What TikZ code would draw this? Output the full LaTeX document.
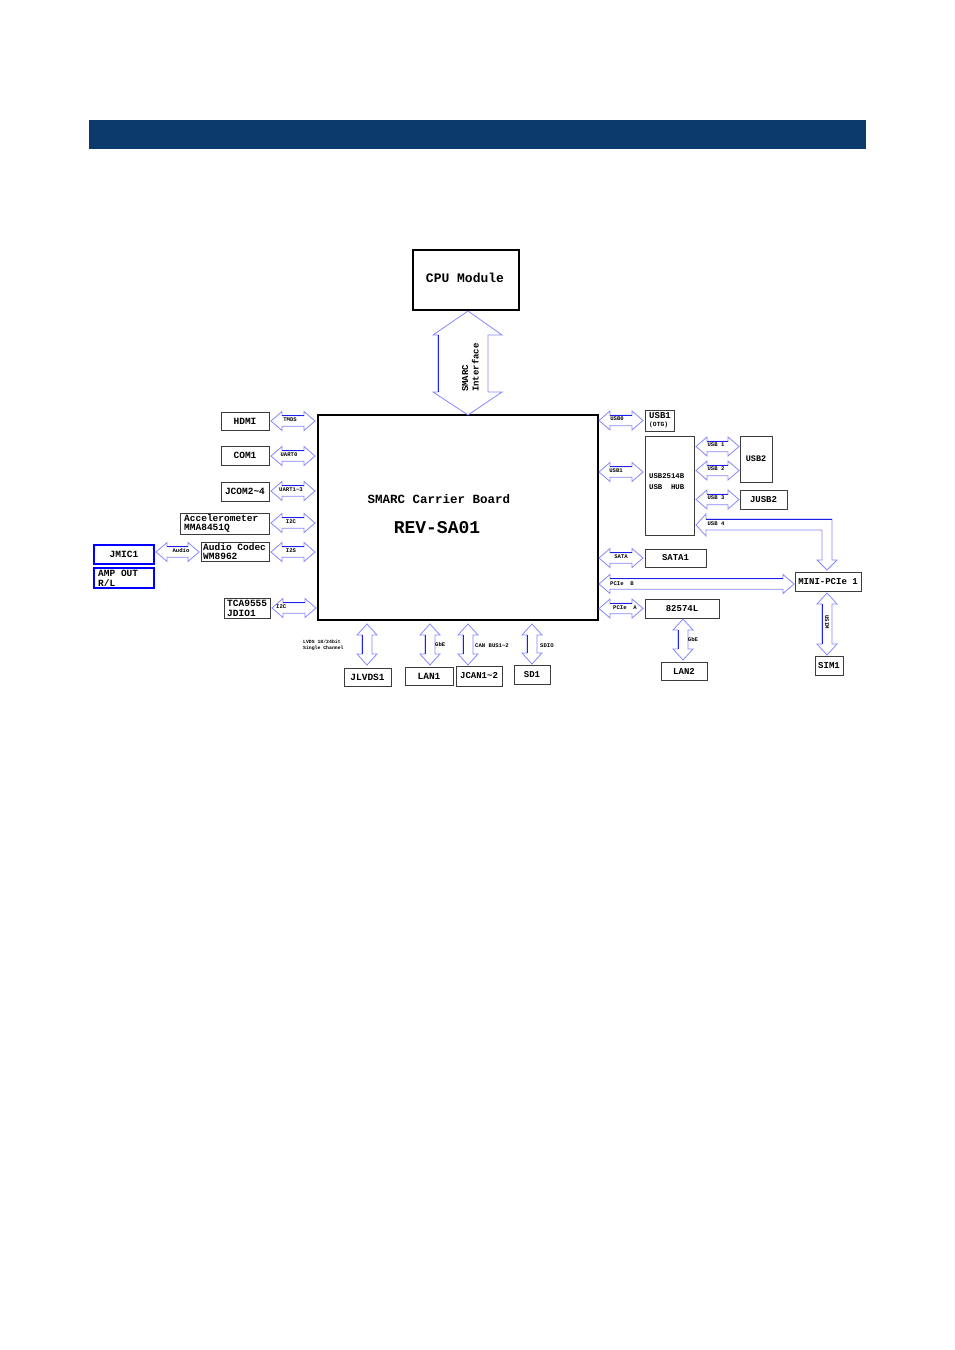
\documentclass[tikz,border=0pt]{standalone}
\usepackage{fontspec}
\setmainfont{Liberation Serif}
\newfontfamily\cour{Liberation Mono}
\definecolor{navyhdr}{RGB}{12,58,108}
\definecolor{arrc}{RGB}{135,135,255}
\definecolor{arrd}{RGB}{30,30,235}
\definecolor{boxc}{RGB}{60,60,60}
\newcommand\fs[1]{\fontsize{#1}{#1}\selectfont}
\newcommand\fsb[2]{\fontsize{#1}{#2}\selectfont}
\newcommand\bxn[7][]{\node[bx,minimum width={#5-#3},minimum height={#6-#4},#1] (#2) at ({(#3+#5)/2},{(#4+#6)/2}) {#7};}
\newcommand\harr[3]{%
  \draw[arr] (#1,#3) -- ({#1+11},{#3-9.5}) -- ({#1+11},{#3-5.3}) -- ({#2-11},{#3-5.3}) -- ({#2-11},{#3-9.5}) -- (#2,#3) -- ({#2-11},{#3+9.5}) -- ({#2-11},{#3+5.3}) -- ({#1+11},{#3+5.3}) -- ({#1+11},{#3+9.5}) -- cycle;
  \draw[arrdk] ({#1+11},{#3-5.3}) -- ({#2-11},{#3-5.3});}
\newcommand\varr[3]{%
  \draw[arr] (#1,#2) -- ({#1+10},{#2+11}) -- ({#1+5},{#2+11}) -- ({#1+5},{#3-11}) -- ({#1+10},{#3-11}) -- (#1,#3) -- ({#1-10},{#3-11}) -- ({#1-5},{#3-11}) -- ({#1-5},{#2+11}) -- ({#1-10},{#2+11}) -- cycle;
  \draw[arrdk] ({#1-5},{#2+11}) -- ({#1-5},{#3-11});}
\begin{document}
\begin{tikzpicture}[x=1pt,y=-1pt,
  bx/.style={draw=boxc,line width=0.9pt,inner sep=1pt,font=\cour\bfseries\fs{9.5}},
  thick box/.style={draw=black,line width=2pt},
  bluebox/.style={draw=blue,line width=2.3pt},
  arr/.style={draw=arrc,line width=0.8pt,fill=white,line join=miter},
  arrdk/.style={draw=arrd,line width=0.8pt},
  txt/.style={inner sep=0pt,anchor=west,font=\cour\bfseries\fs{9.5}},
  lbl/.style={font=\cour\bfseries\fs{5.6},inner sep=0pt},
  lbls/.style={font=\cour\bfseries\fsb{4.8}{5.6},inner sep=0pt,align=left}]
\useasboundingbox (0,0) rectangle (955,1350);
\fill[navyhdr] (89,120) rectangle (866,149);

% main boxes
\bxn[thick box]{cpu}{413}{250}{519}{310}{}
\node[font=\cour\bfseries\fs{13}] (cput) at (465,277.5) {CPU Module};
\bxn[thick box]{board}{318}{415}{598}{620}{}
\node[font=\cour\bfseries\fs{12.5}] (boardt) at (439,499) {SMARC Carrier Board};
\node[font=\cour\bfseries\fs{18}] (rev) at (437,528) {REV-SA01};

% SMARC interface arrow
\draw[arr] (468,311) -- (502,335) -- (488,335) -- (488,392) -- (502,392) -- (468,415) -- (433,392) -- (438,392) -- (438,335) -- (433,335) -- cycle;
\draw[arrdk] (438,335) -- (438,392);
\node[font=\cour\bfseries\fsb{9}{10.5},rotate=90,align=left,inner sep=0pt,anchor=south west] (smi) at (479,392) {SMARC\\Interface};

% left boxes
\bxn{hdmi}{221}{412}{269}{430}{HDMI}
\bxn{com1}{221}{446}{269}{465}{COM1}
\bxn{jcom}{221}{482}{269}{501}{JCOM2\textasciitilde4}
\bxn{acc}{180}{513}{269}{534}{}
\node[txt] (acct) at (184,518) {Accelerometer};
\node[txt] (accb) at (184,528.5) {MMA8451Q};
\bxn{codec}{201}{542}{269}{561}{}
\node[txt] (codt) at (203,547.5) {Audio Codec};
\node[txt] (codb) at (203,556.5) {WM8962};
\bxn[bluebox]{jmic}{94}{545}{154}{564}{JMIC1}
\bxn[bluebox]{amp}{94}{568}{154}{588}{}
\node[txt] (ampt) at (98,573) {AMP OUT};
\node[txt] (ampb) at (98,583.5) {R/L};
\bxn{tca}{224}{598}{270}{618}{}
\node[txt] (tcat) at (227,603.5) {TCA9555};
\node[txt] (tcab) at (227,613) {JDIO1};

\harr{271}{315}{421}
\harr{271}{315}{456}
\harr{271}{315}{491}
\harr{271}{315}{523}
\harr{271}{315}{552}
\harr{156}{199}{552}
\harr{272}{316}{608}
\node[lbl] (l1) at (290,420) {TMDS};
\node[lbl] (l2) at (289,454.5) {UART0};
\node[lbl] (l3) at (291,489.5) {UART1\textasciitilde3};
\node[lbl] (l4) at (291,521.5) {I2C};
\node[lbl] (l5) at (291,550.5) {I2S};
\node[lbl] (l6) at (181,550.5) {Audio};
\node[lbl,anchor=west] (l7) at (276,607) {I2C};

% right boxes
\bxn{usb1}{645}{410}{674}{431}{}
\node[txt,font=\cour\bfseries\fs{9}] (usb1t) at (649,416) {USB1};
\node[txt,font=\cour\bfseries\fs{6.3}] (usb1b) at (649,425) {(OTG)};
\bxn{hub}{645}{436}{694}{535}{}
\node[txt,font=\cour\bfseries\fs{7.3}] (hubt) at (649,476.5) {USB2514B};
\node[txt,font=\cour\bfseries\fs{7.3}] (hubb) at (649,487.5) {USB~~HUB};
\bxn[font=\cour\bfseries\fs{8.5}]{usb2}{740}{436}{772}{482}{USB2}
\bxn[font=\cour\bfseries\fs{9}]{jusb2}{740}{490}{787}{509}{JUSB2}
\bxn[font=\cour\bfseries\fs{9}]{sata1}{645}{549}{706}{567}{SATA1}
\bxn[font=\cour\bfseries\fs{9}]{mpcie}{795}{572}{861}{591}{MINI-PCIe 1}
\bxn[font=\cour\bfseries\fs{9}]{eth}{645}{599}{719}{618}{82574L}
\bxn[font=\cour\bfseries\fs{9}]{lan2}{661}{662}{707}{680}{LAN2}
\bxn[font=\cour\bfseries\fs{9}]{sim1}{815}{656}{843}{675}{SIM1}

\harr{599}{643}{420.5}
\harr{599}{643}{472}
\harr{696}{739}{446.5}
\harr{696}{739}{470.5}
\harr{696}{739}{499.5}
\harr{599}{643}{558}
\harr{599}{794}{584}
\harr{599}{643}{608.5}
% USB 4 bent arrow
\draw[arr] (696,525) -- (706,514) -- (706,519) -- (832,519) -- (832,560) -- (837,560) -- (827,570) -- (817,560) -- (822,560) -- (822,530) -- (706,530) -- (706,536) -- cycle;
\draw[arrdk] (706,519) -- (832,519);
\varr{683}{619}{660}
\varr{827}{593}{655}

\node[lbl] (r1) at (617,419) {USB0};
\node[lbl] (r2) at (616,470.5) {USB1};
\node[lbl] (r3) at (716,445) {USB 1};
\node[lbl] (r4) at (716,469) {USB 2};
\node[lbl] (r5) at (716,498) {USB 3};
\node[lbl] (r6) at (716,523.5) {USB 4};
\node[lbl] (r7) at (621,556.5) {SATA};
\node[lbl,anchor=west] (r8) at (610,583.5) {PCIe~~B};
\node[lbl,anchor=west] (r9) at (613,607.5) {PCIe~~A};
\node[lbl] (r10) at (693,639) {GbE};
\node[lbl,rotate=-90] (r11) at (827,622) {USIM};

% bottom
\bxn{jlvds}{344}{668}{391}{686}{JLVDS1}
\bxn{lan1}{405}{667}{453}{685}{LAN1}
\bxn[font=\cour\bfseries\fs{9}]{jcan}{456}{666}{502}{686}{JCAN1\textasciitilde2}
\bxn[font=\cour\bfseries\fs{9}]{sd1}{514}{665}{550}{684}{SD1}
\varr{367}{624}{665}
\varr{430}{624}{665}
\varr{468}{624}{665}
\varr{532}{624}{664}
\node[lbls,anchor=west] (b1) at (303,645.5) {LVDS 18/24bit\\Single Channel};
\node[lbl,anchor=west] (b2) at (435,644.5) {GbE};
\node[lbl,anchor=west] (b3) at (475,645.5) {CAN BUS1\textasciitilde2};
\node[lbl,anchor=west] (b4) at (540,645.5) {SDIO};
\end{tikzpicture}
\end{document}
